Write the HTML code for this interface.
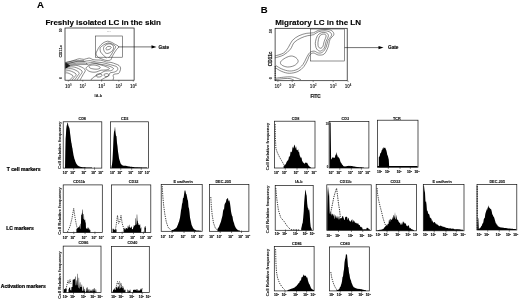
<!DOCTYPE html>
<html><head><meta charset="utf-8"><title>Figure</title>
<style>
html,body{margin:0;padding:0;background:#fff;}
body{width:520px;height:300px;overflow:hidden;font-family:"Liberation Sans", sans-serif;}
svg{display:block;font-family:"Liberation Sans", sans-serif;filter:blur(0.25px) grayscale(1);}
svg text{font-family:"Liberation Sans", sans-serif;}
</style></head>
<body>
<svg width="520" height="300" viewBox="0 0 520 300">
<rect x="0" y="0" width="520" height="300" fill="#fff"/>
<text x="36.9" y="8.1" font-size="9.6" font-weight="bold" text-anchor="start" fill="#000" stroke="#000" stroke-width="0.12">A</text>
<text x="260.7" y="12.7" font-size="9.5" font-weight="bold" text-anchor="start" fill="#000" stroke="#000" stroke-width="0.12">B</text>
<text x="45.4" y="24.7" font-size="8" font-weight="bold" text-anchor="start" fill="#000" stroke="#000" stroke-width="0.12">Freshly isolated LC in the skin</text>
<text x="275.2" y="24.6" font-size="8" font-weight="bold" text-anchor="start" fill="#000" stroke="#000" stroke-width="0.12">Migratory LC in the LN</text>
<text x="6.8" y="171.3" font-size="5" font-weight="bold" text-anchor="start" fill="#000" stroke="#000" stroke-width="0.22">T cell markers</text>
<text x="6.2" y="229.8" font-size="5" font-weight="bold" text-anchor="start" fill="#000" stroke="#000" stroke-width="0.22">LC markers</text>
<text x="0.8" y="288.0" font-size="5" font-weight="bold" text-anchor="start" fill="#000" stroke="#000" stroke-width="0.22">Activation markers</text>
<rect x="65.0" y="28.0" width="69.1" height="52.2" fill="none" stroke="#111" stroke-width="0.7"/>
<rect x="95.6" y="36.0" width="27.0" height="21.200000000000003" fill="none" stroke="#333" stroke-width="0.55"/>
<line x1="118" y1="46.9" x2="153" y2="46.9" stroke="#111" stroke-width="0.6"/>
<path d="M156.5 46.9 L151.5 45.3 L151.5 48.5 Z" fill="#000"/>
<text x="158.6" y="48.5" font-size="4.7" font-weight="bold" text-anchor="start" fill="#222" stroke="#222" stroke-width="0.22">Gate</text>
<text x="62.0" y="30.2" font-size="3.3" font-weight="bold" text-anchor="middle" fill="#222" stroke="#222" stroke-width="0.1" transform="rotate(-90 62.0 30.2)">50</text>
<text x="61.9" y="57.599999999999994" font-size="3.3" font-weight="bold" text-anchor="start" fill="#222" stroke="#222" stroke-width="0.1" transform="rotate(-90 61.9 57.599999999999994)" textLength="12.6" lengthAdjust="spacingAndGlyphs">CD11c</text>
<text x="62.0" y="78.0" font-size="3.3" font-weight="bold" text-anchor="middle" fill="#222" stroke="#222" stroke-width="0.1" transform="rotate(-90 62.0 78.0)">0</text>
<text x="68.3" y="87.8" font-size="4.6" font-weight="bold" text-anchor="middle" fill="#222">10<tspan font-size="2.8" dy="-1.7">0</tspan></text>
<line x1="68.3" y1="80.2" x2="68.3" y2="81.6" stroke="#222" stroke-width="0.5"/>
<text x="82.8" y="87.8" font-size="4.6" font-weight="bold" text-anchor="middle" fill="#222">10<tspan font-size="2.8" dy="-1.7">1</tspan></text>
<line x1="82.8" y1="80.2" x2="82.8" y2="81.6" stroke="#222" stroke-width="0.5"/>
<text x="101.6" y="87.8" font-size="4.6" font-weight="bold" text-anchor="middle" fill="#222">10<tspan font-size="2.8" dy="-1.7">2</tspan></text>
<line x1="101.6" y1="80.2" x2="101.6" y2="81.6" stroke="#222" stroke-width="0.5"/>
<text x="118.8" y="87.8" font-size="4.6" font-weight="bold" text-anchor="middle" fill="#222">10<tspan font-size="2.8" dy="-1.7">3</tspan></text>
<line x1="118.8" y1="80.2" x2="118.8" y2="81.6" stroke="#222" stroke-width="0.5"/>
<text x="133.3" y="87.8" font-size="4.6" font-weight="bold" text-anchor="middle" fill="#222">10<tspan font-size="2.8" dy="-1.7">4</tspan></text>
<line x1="133.3" y1="80.2" x2="133.3" y2="81.6" stroke="#222" stroke-width="0.5"/>
<text x="98.3" y="96.6" font-size="3.8" font-weight="bold" text-anchor="middle" fill="#222" stroke="#222" stroke-width="0.1">IA-b</text>
<text x="109" y="32.3" font-size="2.2" font-weight="normal" text-anchor="middle" fill="#555">H4</text>
<path d="M96.00 54.00 C95.83 52.75 96.92 51.25 97.50 50.00 C98.08 48.75 98.58 47.67 99.50 46.50 C100.42 45.33 101.67 43.88 103.00 43.00 C104.33 42.12 106.08 41.32 107.50 41.20 C108.92 41.08 110.33 41.83 111.50 42.30 C112.67 42.77 113.32 43.28 114.50 44.00 C115.68 44.72 118.32 45.60 118.60 46.60 C118.88 47.60 117.03 48.77 116.20 50.00 C115.37 51.23 114.30 52.83 113.60 54.00 C112.90 55.17 112.52 56.00 112.00 57.00 C111.48 58.00 111.50 59.43 110.50 60.00 C109.50 60.57 107.42 60.57 106.00 60.40 C104.58 60.23 103.25 59.48 102.00 59.00 C100.75 58.52 99.50 58.33 98.50 57.50 C97.50 56.67 96.17 55.25 96.00 54.00 Z" fill="none" stroke="#2a2a2a" stroke-width="0.55"/>
<path d="M100.00 47.80 C100.58 47.33 102.17 45.80 103.50 45.00 C104.83 44.20 106.58 43.17 108.00 43.00 C109.42 42.83 110.73 43.40 112.00 44.00 C113.27 44.60 115.33 45.52 115.60 46.60 C115.87 47.68 114.37 49.10 113.60 50.50 C112.83 51.90 111.85 53.75 111.00 55.00 C110.15 56.25 108.92 57.50 108.50 58.00" fill="none" stroke="#2a2a2a" stroke-width="0.55"/>
<path d="M100.00 47.80 C100.10 48.50 100.02 50.75 100.60 52.00 C101.18 53.25 102.52 54.30 103.50 55.30 C104.48 56.30 106.00 57.55 106.50 58.00" fill="none" stroke="#2a2a2a" stroke-width="0.55"/>
<path d="M103.50 48.50 C103.50 47.35 104.08 46.38 105.00 45.60 C105.92 44.82 107.75 43.90 109.00 43.80 C110.25 43.70 111.73 44.30 112.50 45.00 C113.27 45.70 113.75 46.92 113.60 48.00 C113.45 49.08 112.53 50.60 111.60 51.50 C110.67 52.40 109.10 53.23 108.00 53.40 C106.90 53.57 105.75 53.32 105.00 52.50 C104.25 51.68 103.50 49.65 103.50 48.50 Z" fill="none" stroke="#2a2a2a" stroke-width="0.55"/>
<path d="M106.00 48.50 C106.15 47.97 106.75 46.93 107.50 46.60 C108.25 46.27 109.90 46.27 110.50 46.50 C111.10 46.73 111.35 47.50 111.10 48.00 C110.85 48.50 109.75 49.20 109.00 49.50 C108.25 49.80 107.10 49.97 106.60 49.80 C106.10 49.63 105.85 49.03 106.00 48.50 Z" fill="none" stroke="#2a2a2a" stroke-width="0.55"/>
<path d="M65.30 62.80 C66.08 62.58 68.38 61.97 70.00 61.50 C71.62 61.03 73.42 60.47 75.00 60.00 C76.58 59.53 78.00 58.80 79.50 58.70 C81.00 58.60 82.42 59.52 84.00 59.40 C85.58 59.28 87.50 57.97 89.00 58.00 C90.50 58.03 91.67 59.27 93.00 59.60 C94.33 59.93 95.67 59.90 97.00 60.00 C98.33 60.10 99.43 59.87 101.00 60.20 C102.57 60.53 104.73 61.63 106.40 62.00 C108.07 62.37 109.43 62.07 111.00 62.40 C112.57 62.73 114.47 63.48 115.80 64.00 C117.13 64.52 118.20 64.83 119.00 65.50 C119.80 66.17 120.43 67.08 120.60 68.00 C120.77 68.92 120.35 70.08 120.00 71.00 C119.65 71.92 119.33 73.00 118.50 73.50 C117.67 74.00 115.92 73.72 115.00 74.00 C114.08 74.28 113.23 74.62 113.00 75.20 C112.77 75.78 113.60 76.70 113.60 77.50 C113.60 78.30 113.10 79.58 113.00 80.00" fill="none" stroke="#2a2a2a" stroke-width="0.55"/>
<path d="M65.30 64.50 C66.42 64.18 69.88 63.15 72.00 62.60 C74.12 62.05 76.00 61.40 78.00 61.20 C80.00 61.00 82.00 61.50 84.00 61.40 C86.00 61.30 88.00 60.50 90.00 60.60 C92.00 60.70 94.00 61.67 96.00 62.00 C98.00 62.33 100.00 62.27 102.00 62.60 C104.00 62.93 106.17 63.53 108.00 64.00 C109.83 64.47 111.50 64.90 113.00 65.40 C114.50 65.90 116.23 66.23 117.00 67.00 C117.77 67.77 118.02 69.17 117.60 70.00 C117.18 70.83 115.77 71.50 114.50 72.00 C113.23 72.50 111.00 72.33 110.00 73.00 C109.00 73.67 109.42 75.17 108.50 76.00 C107.58 76.83 105.75 77.33 104.50 78.00 C103.25 78.67 101.58 79.67 101.00 80.00" fill="none" stroke="#2a2a2a" stroke-width="0.55"/>
<path d="M86.00 63.40 C87.00 63.27 90.00 62.53 92.00 62.60 C94.00 62.67 96.00 63.43 98.00 63.80 C100.00 64.17 102.00 64.37 104.00 64.80 C106.00 65.23 108.42 65.77 110.00 66.40 C111.58 67.03 113.42 67.87 113.50 68.60 C113.58 69.33 111.92 70.40 110.50 70.80 C109.08 71.20 106.58 70.60 105.00 71.00 C103.42 71.40 102.50 72.40 101.00 73.20 C99.50 74.00 97.42 75.00 96.00 75.80 C94.58 76.60 93.33 77.30 92.50 78.00 C91.67 78.70 91.25 79.67 91.00 80.00" fill="none" stroke="#2a2a2a" stroke-width="0.55"/>
<path d="M89.00 66.20 C89.33 65.70 90.83 65.15 92.00 65.00 C93.17 64.85 94.75 65.03 96.00 65.30 C97.25 65.57 98.83 66.12 99.50 66.60 C100.17 67.08 100.42 67.77 100.00 68.20 C99.58 68.63 98.17 69.08 97.00 69.20 C95.83 69.32 94.17 69.10 93.00 68.90 C91.83 68.70 90.67 68.45 90.00 68.00 C89.33 67.55 88.67 66.70 89.00 66.20 Z" fill="none" stroke="#2a2a2a" stroke-width="0.55"/>
<path d="M86.00 68.50 C85.83 67.63 87.33 66.68 88.00 66.00 C88.67 65.32 88.83 64.80 90.00 64.40 C91.17 64.00 93.17 63.50 95.00 63.60 C96.83 63.70 99.17 64.50 101.00 65.00 C102.83 65.50 104.58 66.00 106.00 66.60 C107.42 67.20 109.50 68.03 109.50 68.60 C109.50 69.17 107.42 69.73 106.00 70.00 C104.58 70.27 102.50 69.90 101.00 70.20 C99.50 70.50 98.33 71.47 97.00 71.80 C95.67 72.13 94.33 72.30 93.00 72.20 C91.67 72.10 90.17 71.82 89.00 71.20 C87.83 70.58 86.17 69.37 86.00 68.50 Z" fill="none" stroke="#2a2a2a" stroke-width="0.55"/>
<path d="M65.50 66.00 C67.25 65.87 72.75 64.62 76.00 65.20 C79.25 65.78 83.83 67.91 85.00 69.50 C86.17 71.09 83.83 73.00 83.00 74.75 C82.17 76.50 80.50 79.12 80.00 80.00" fill="none" stroke="#2a2a2a" stroke-width="0.55"/>
<path d="M65.50 67.60 C66.92 67.50 71.25 66.43 74.00 67.00 C76.75 67.57 81.00 69.58 82.00 71.00 C83.00 72.42 80.83 74.00 80.00 75.50 C79.17 77.00 77.50 79.25 77.00 80.00" fill="none" stroke="#2a2a2a" stroke-width="0.55"/>
<path d="M65.50 69.20 C66.58 69.13 69.75 68.25 72.00 68.80 C74.25 69.35 78.12 71.26 79.00 72.50 C79.88 73.74 78.00 75.00 77.25 76.25 C76.50 77.50 74.96 79.38 74.50 80.00" fill="none" stroke="#2a2a2a" stroke-width="0.55"/>
<path d="M65.50 71.00 C66.25 70.97 68.25 70.30 70.00 70.80 C71.75 71.30 75.25 72.97 76.00 74.00 C76.75 75.03 75.17 76.00 74.50 77.00 C73.83 78.00 72.42 79.50 72.00 80.00" fill="none" stroke="#2a2a2a" stroke-width="0.55"/>
<path d="M65.50 73.00 C65.92 73.00 66.75 72.53 68.00 73.00 C69.25 73.47 72.38 74.98 73.00 75.80 C73.62 76.62 72.33 77.20 71.75 77.90 C71.17 78.60 69.88 79.65 69.50 80.00" fill="none" stroke="#2a2a2a" stroke-width="0.55"/>
<path d="M96.00 75.00 C96.25 74.47 98.00 73.83 99.00 73.80 C100.00 73.77 101.67 74.33 102.00 74.80 C102.33 75.27 101.75 76.23 101.00 76.60 C100.25 76.97 98.33 77.27 97.50 77.00 C96.67 76.73 95.75 75.53 96.00 75.00 Z" fill="none" stroke="#2a2a2a" stroke-width="0.55"/>
<path d="M104.00 74.50 C104.37 74.07 106.17 73.52 107.00 73.60 C107.83 73.68 109.00 74.52 109.00 75.00 C109.00 75.48 107.70 76.30 107.00 76.50 C106.30 76.70 105.30 76.53 104.80 76.20 C104.30 75.87 103.63 74.93 104.00 74.50 Z" fill="none" stroke="#2a2a2a" stroke-width="0.55"/>
<path d="M65.3 62.6 L67.4 63.6 L69.6 65.2 L70.4 66.2 L68.4 66.8 L66.8 68.0 L65.3 68.8 Z" fill="#111"/>
<path d="M65.5 62.4 Q74.0 60.0 84.0 60.6" fill="none" stroke="#2a2a2a" stroke-width="0.5"/>
<path d="M65.5 63.4 Q75.5 61.4 85.5 61.9" fill="none" stroke="#2a2a2a" stroke-width="0.5"/>
<path d="M65.5 64.4 Q77.0 62.8 87.0 63.2" fill="none" stroke="#2a2a2a" stroke-width="0.5"/>
<path d="M65.5 65.4 Q78.5 64.2 88.5 64.5" fill="none" stroke="#2a2a2a" stroke-width="0.5"/>
<rect x="275.1" y="28.3" width="72.09999999999997" height="52.400000000000006" fill="none" stroke="#111" stroke-width="0.7"/>
<rect x="310.6" y="29.0" width="34.099999999999966" height="32.0" fill="none" stroke="#333" stroke-width="0.55"/>
<line x1="344.6" y1="47.6" x2="380" y2="47.6" stroke="#111" stroke-width="0.6"/>
<path d="M383.5 47.6 L378.5 46.0 L378.5 49.2 Z" fill="#000"/>
<text x="388" y="49.2" font-size="4.7" font-weight="bold" text-anchor="start" fill="#222" stroke="#222" stroke-width="0.22">Gate</text>
<text x="271.6" y="31.0" font-size="3.8" font-weight="bold" text-anchor="middle" fill="#222" stroke="#222" stroke-width="0.1" transform="rotate(-90 271.6 31.0)">50</text>
<text x="271.6" y="58.8" font-size="4.8" font-weight="bold" text-anchor="middle" fill="#222" stroke="#222" stroke-width="0.22" transform="rotate(-90 271.6 58.8)">CD11c</text>
<text x="271.6" y="78.3" font-size="3.8" font-weight="bold" text-anchor="middle" fill="#222" stroke="#222" stroke-width="0.1" transform="rotate(-90 271.6 78.3)">0</text>
<text x="277.9" y="87.6" font-size="4.6" font-weight="bold" text-anchor="middle" fill="#222">10<tspan font-size="2.8" dy="-1.7">0</tspan></text>
<line x1="277.9" y1="80.7" x2="277.9" y2="82.1" stroke="#222" stroke-width="0.5"/>
<text x="292.2" y="87.6" font-size="4.6" font-weight="bold" text-anchor="middle" fill="#222">10<tspan font-size="2.8" dy="-1.7">1</tspan></text>
<line x1="292.2" y1="80.7" x2="292.2" y2="82.1" stroke="#222" stroke-width="0.5"/>
<text x="313.2" y="87.6" font-size="4.6" font-weight="bold" text-anchor="middle" fill="#222">10<tspan font-size="2.8" dy="-1.7">2</tspan></text>
<line x1="313.2" y1="80.7" x2="313.2" y2="82.1" stroke="#222" stroke-width="0.5"/>
<text x="333.2" y="87.6" font-size="4.6" font-weight="bold" text-anchor="middle" fill="#222">10<tspan font-size="2.8" dy="-1.7">3</tspan></text>
<line x1="333.2" y1="80.7" x2="333.2" y2="82.1" stroke="#222" stroke-width="0.5"/>
<text x="348.0" y="87.6" font-size="4.6" font-weight="bold" text-anchor="middle" fill="#222">10<tspan font-size="2.8" dy="-1.7">4</tspan></text>
<line x1="348.0" y1="80.7" x2="348.0" y2="82.1" stroke="#222" stroke-width="0.5"/>
<text x="315.5" y="98.2" font-size="4.6" font-weight="bold" text-anchor="middle" fill="#222" stroke="#222" stroke-width="0.22">FITC</text>
<path d="M274.90 56.00 C276.35 55.50 281.35 54.45 283.60 53.00 C285.85 51.55 286.95 49.38 288.40 47.30 C289.85 45.22 290.53 42.43 292.30 40.50 C294.07 38.57 296.58 36.90 299.00 35.70 C301.42 34.50 304.38 33.78 306.80 33.30 C309.22 32.82 311.57 33.30 313.50 32.80 C315.43 32.30 316.30 30.85 318.40 30.30 C320.50 29.75 323.85 29.42 326.10 29.50 C328.35 29.58 330.62 29.93 331.90 30.80 C333.18 31.67 334.12 33.25 333.80 34.70 C333.48 36.15 330.97 37.40 330.00 39.50 C329.03 41.60 328.97 44.88 328.00 47.30 C327.03 49.72 325.80 52.72 324.20 54.00 C322.60 55.28 320.18 55.17 318.40 55.00 C316.62 54.83 314.95 53.00 313.50 53.00 C312.05 53.00 310.67 53.87 309.70 55.00 C308.73 56.13 308.67 57.87 307.70 59.80 C306.73 61.73 305.50 64.67 303.90 66.60 C302.30 68.53 300.52 70.28 298.10 71.40 C295.68 72.52 292.13 73.30 289.40 73.30 C286.67 73.30 284.12 72.37 281.70 71.40 C279.28 70.43 276.03 68.15 274.90 67.50" fill="none" stroke="#2a2a2a" stroke-width="0.55"/>
<path d="M274.90 57.90 C276.35 57.42 281.02 56.45 283.60 55.00 C286.18 53.55 288.63 51.30 290.40 49.20 C292.17 47.10 292.43 44.27 294.20 42.40 C295.97 40.53 298.75 39.12 301.00 38.00 C303.25 36.88 305.62 36.25 307.70 35.70 C309.78 35.15 311.72 35.35 313.50 34.70 C315.28 34.05 316.47 32.45 318.40 31.80 C320.33 31.15 323.17 30.73 325.10 30.80 C327.03 30.87 328.93 31.45 330.00 32.20 C331.07 32.95 331.83 33.92 331.50 35.30 C331.17 36.68 328.90 38.50 328.00 40.50 C327.10 42.50 327.00 45.37 326.10 47.30 C325.20 49.23 323.88 51.15 322.60 52.10 C321.32 53.05 319.82 53.17 318.40 53.00 C316.98 52.83 315.55 51.15 314.10 51.10 C312.65 51.05 310.98 51.57 309.70 52.70 C308.42 53.83 307.53 55.92 306.40 57.90 C305.27 59.88 304.45 62.67 302.90 64.60 C301.35 66.53 299.35 68.43 297.10 69.50 C294.85 70.57 291.97 71.10 289.40 71.00 C286.83 70.90 283.95 69.80 281.70 68.90 C279.45 68.00 276.87 66.15 275.90 65.60" fill="none" stroke="#2a2a2a" stroke-width="0.55"/>
<path d="M315.50 41.50 C315.82 39.90 316.43 37.15 317.40 35.70 C318.37 34.25 319.85 33.28 321.30 32.80 C322.75 32.32 324.92 32.32 326.10 32.80 C327.28 33.28 328.40 34.25 328.40 35.70 C328.40 37.15 326.80 39.42 326.10 41.50 C325.40 43.58 325.17 46.60 324.20 48.20 C323.23 49.80 321.53 50.93 320.30 51.10 C319.07 51.27 317.60 50.17 316.80 49.20 C316.00 48.23 315.72 46.58 315.50 45.30 C315.28 44.02 315.18 43.10 315.50 41.50 Z" fill="none" stroke="#2a2a2a" stroke-width="0.55"/>
<path d="M318.40 39.50 C318.78 37.83 319.33 36.20 320.30 35.30 C321.27 34.40 323.23 33.98 324.20 34.10 C325.17 34.22 326.10 34.77 326.10 36.00 C326.10 37.23 324.78 39.68 324.20 41.50 C323.62 43.32 323.32 45.78 322.60 46.90 C321.88 48.02 320.67 48.47 319.90 48.20 C319.13 47.93 318.25 46.75 318.00 45.30 C317.75 43.85 318.02 41.17 318.40 39.50 Z" fill="none" stroke="#2a2a2a" stroke-width="0.55"/>
<path d="M280.70 61.70 C281.33 60.52 283.73 58.85 285.50 57.90 C287.27 56.95 289.52 56.00 291.30 56.00 C293.08 56.00 295.07 56.95 296.20 57.90 C297.33 58.85 298.43 60.42 298.10 61.70 C297.77 62.98 295.97 64.72 294.20 65.60 C292.43 66.48 289.58 67.10 287.50 67.00 C285.42 66.90 282.83 65.88 281.70 65.00 C280.57 64.12 280.07 62.88 280.70 61.70 Z" fill="none" stroke="#2a2a2a" stroke-width="0.55"/>
<path d="M275.90 78.20 C277.18 78.03 281.03 77.43 283.60 77.20 C286.17 76.97 289.05 76.63 291.30 76.80 C293.55 76.97 295.48 77.72 297.10 78.20 C298.72 78.68 300.35 79.45 301.00 79.70" fill="none" stroke="#2a2a2a" stroke-width="0.55"/>
<path d="M276.00 79.60 C277.33 79.43 281.67 78.77 284.00 78.60 C286.33 78.43 288.33 78.33 290.00 78.60 C291.67 78.87 293.33 79.93 294.00 80.20" fill="none" stroke="#2a2a2a" stroke-width="0.55"/>
<line x1="275.2" y1="66" x2="275.2" y2="80.7" stroke="#111" stroke-width="0.9" stroke-dasharray="1.4 0.8"/>
<rect x="63.2" y="121.8" width="38.599999999999994" height="46.3" fill="none" stroke="#111" stroke-width="0.7"/>
<text x="82.2" y="120.1" font-size="3.8" font-weight="bold" text-anchor="middle" fill="#111" stroke="#111" stroke-width="0.1">CD8</text>
<text x="65.30" y="173.5" font-size="3.3" font-weight="bold" text-anchor="middle" fill="#111" stroke="#111" stroke-width="0.15">10<tspan font-size="2.2" dy="-1.3">0</tspan></text>
<line x1="73.67" y1="167.29999999999998" x2="73.67" y2="169.79999999999998" stroke="#222" stroke-width="0.55"/>
<text x="72.77" y="173.5" font-size="3.3" font-weight="bold" text-anchor="middle" fill="#111" stroke="#111" stroke-width="0.15">10<tspan font-size="2.2" dy="-1.3">1</tspan></text>
<line x1="84.78" y1="167.29999999999998" x2="84.78" y2="169.79999999999998" stroke="#222" stroke-width="0.55"/>
<text x="83.89" y="173.5" font-size="3.3" font-weight="bold" text-anchor="middle" fill="#111" stroke="#111" stroke-width="0.15">10<tspan font-size="2.2" dy="-1.3">2</tspan></text>
<line x1="94.52" y1="167.29999999999998" x2="94.52" y2="169.79999999999998" stroke="#222" stroke-width="0.55"/>
<text x="93.62" y="173.5" font-size="3.3" font-weight="bold" text-anchor="middle" fill="#111" stroke="#111" stroke-width="0.15">10<tspan font-size="2.2" dy="-1.3">3</tspan></text>
<text x="100.70" y="173.5" font-size="3.3" font-weight="bold" text-anchor="middle" fill="#111" stroke="#111" stroke-width="0.15">10<tspan font-size="2.2" dy="-1.3">4</tspan></text>
<text x="61.2" y="168.95" font-size="3.9" font-weight="bold" text-anchor="start" fill="#222" stroke="#222" stroke-width="0.1" transform="rotate(-90 61.2 168.95)" textLength="47.5" lengthAdjust="spacingAndGlyphs">Cell Relative frequency</text>
<path d="M65.00 168.00 L65.00 168.00 L65.30 152.46 L65.60 139.06 L65.90 135.37 L66.20 129.49 L66.50 126.69 L66.80 125.26 L67.10 124.87 L67.40 122.46 L67.70 122.80 L68.00 123.47 L68.30 125.77 L68.60 125.87 L68.90 127.24 L69.20 127.62 L69.50 128.42 L69.80 130.37 L70.10 133.40 L70.40 135.60 L70.70 138.01 L71.00 140.52 L71.30 142.49 L71.60 143.56 L71.90 145.79 L72.20 147.57 L72.50 148.62 L72.80 150.93 L73.10 152.54 L73.40 154.45 L73.70 156.07 L74.00 157.08 L74.30 158.42 L74.60 159.23 L74.90 159.93 L75.20 161.04 L75.50 162.08 L75.80 162.47 L76.10 163.14 L76.40 163.72 L76.70 164.16 L77.00 164.62 L77.30 164.98 L77.60 165.39 L77.90 165.54 L78.20 165.78 L78.50 166.11 L78.80 166.19 L79.10 166.34 L79.40 166.50 L79.70 166.60 L80.00 166.70 L80.30 166.74 L80.60 166.85 L80.90 166.89 L81.20 166.99 L81.50 166.99 L81.80 167.04 L82.10 167.11 L82.40 167.14 L82.70 167.15 L83.00 167.20 L83.30 167.24 L83.60 167.28 L83.90 167.30 L84.20 167.30 L84.50 167.34 L84.80 167.32 L85.10 167.37 L85.40 167.35 L85.70 167.40 L86.00 167.38 L86.30 167.40 L86.60 167.42 L86.90 167.43 L87.20 167.43 L87.50 167.44 L87.80 167.46 L88.10 167.47 L88.40 167.46 L88.70 167.45 L89.00 167.47 L89.30 167.49 L89.60 167.47 L89.90 167.47 L90.20 167.47 L90.50 167.50 L90.80 167.48 L91.10 167.51 L91.40 167.49 L91.70 167.50 L92.00 167.51 L92.00 168.00 Z" fill="#000" stroke="none" stroke-width="0" stroke-linejoin="round"/>
<rect x="110.4" y="121.8" width="38.0" height="46.3" fill="none" stroke="#111" stroke-width="0.7"/>
<text x="124.7" y="120.1" font-size="3.8" font-weight="bold" text-anchor="middle" fill="#111" stroke="#111" stroke-width="0.1">CD3</text>
<text x="112.50" y="173.5" font-size="3.3" font-weight="bold" text-anchor="middle" fill="#111" stroke="#111" stroke-width="0.15">10<tspan font-size="2.2" dy="-1.3">0</tspan></text>
<line x1="120.74" y1="167.29999999999998" x2="120.74" y2="169.79999999999998" stroke="#222" stroke-width="0.55"/>
<text x="119.84" y="173.5" font-size="3.3" font-weight="bold" text-anchor="middle" fill="#111" stroke="#111" stroke-width="0.15">10<tspan font-size="2.2" dy="-1.3">1</tspan></text>
<line x1="131.67" y1="167.29999999999998" x2="131.67" y2="169.79999999999998" stroke="#222" stroke-width="0.55"/>
<text x="130.77" y="173.5" font-size="3.3" font-weight="bold" text-anchor="middle" fill="#111" stroke="#111" stroke-width="0.15">10<tspan font-size="2.2" dy="-1.3">2</tspan></text>
<line x1="141.24" y1="167.29999999999998" x2="141.24" y2="169.79999999999998" stroke="#222" stroke-width="0.55"/>
<text x="140.34" y="173.5" font-size="3.3" font-weight="bold" text-anchor="middle" fill="#111" stroke="#111" stroke-width="0.15">10<tspan font-size="2.2" dy="-1.3">3</tspan></text>
<text x="147.30" y="173.5" font-size="3.3" font-weight="bold" text-anchor="middle" fill="#111" stroke="#111" stroke-width="0.15">10<tspan font-size="2.2" dy="-1.3">4</tspan></text>
<path d="M111.50 168.00 L111.50 166.73 L112.00 164.58 L112.50 159.67 L113.00 149.89 L113.50 137.66 L114.00 131.70 L114.50 130.42 L115.00 126.29 L115.50 132.32 L116.00 135.81 L116.50 136.19 L117.00 143.08 L117.50 146.22 L118.00 151.43 L118.50 154.59 L119.00 158.37 L119.50 159.94 L120.00 161.52 L120.50 163.16 L121.00 163.92 L121.50 164.58 L122.00 165.27 L122.50 165.21 L123.00 165.45 L123.50 165.68 L124.00 165.87 L124.50 165.64 L125.00 165.86 L125.50 165.84 L126.00 165.87 L126.50 166.00 L127.00 166.01 L127.50 166.24 L128.00 166.20 L128.50 166.38 L129.00 166.33 L129.50 166.42 L130.00 166.68 L130.50 166.73 L131.00 166.78 L131.50 166.70 L132.00 166.86 L132.50 166.89 L133.00 167.00 L133.50 167.02 L134.00 167.08 L134.50 167.13 L135.00 167.14 L135.50 167.18 L136.00 167.18 L136.50 167.24 L137.00 167.24 L137.50 167.28 L138.00 167.29 L138.50 167.34 L139.00 167.41 L139.50 167.36 L140.00 167.37 L140.50 167.39 L141.00 167.43 L141.50 167.43 L142.00 167.48 L142.50 167.43 L143.00 167.46 L143.50 167.49 L144.00 167.51 L144.50 167.45 L145.00 167.44 L145.50 167.52 L146.00 167.47 L146.50 167.50 L147.00 167.52 L147.00 168.00 Z" fill="#000" stroke="none" stroke-width="0" stroke-linejoin="round"/>
<rect x="63.2" y="184.9" width="39.099999999999994" height="47.5" fill="none" stroke="#111" stroke-width="0.7"/>
<text x="79.2" y="182.70000000000002" font-size="3.8" font-weight="bold" text-anchor="middle" fill="#111" stroke="#111" stroke-width="0.1">CD11b</text>
<text x="65.30" y="238.6" font-size="3.3" font-weight="bold" text-anchor="middle" fill="#111" stroke="#111" stroke-width="0.15">10<tspan font-size="2.2" dy="-1.3">0</tspan></text>
<line x1="73.77" y1="231.6" x2="73.77" y2="234.1" stroke="#222" stroke-width="0.55"/>
<text x="72.87" y="238.6" font-size="3.3" font-weight="bold" text-anchor="middle" fill="#111" stroke="#111" stroke-width="0.15">10<tspan font-size="2.2" dy="-1.3">1</tspan></text>
<line x1="85.05" y1="231.6" x2="85.05" y2="234.1" stroke="#222" stroke-width="0.55"/>
<text x="84.15" y="238.6" font-size="3.3" font-weight="bold" text-anchor="middle" fill="#111" stroke="#111" stroke-width="0.15">10<tspan font-size="2.2" dy="-1.3">2</tspan></text>
<line x1="94.92" y1="231.6" x2="94.92" y2="234.1" stroke="#222" stroke-width="0.55"/>
<text x="94.02" y="238.6" font-size="3.3" font-weight="bold" text-anchor="middle" fill="#111" stroke="#111" stroke-width="0.15">10<tspan font-size="2.2" dy="-1.3">3</tspan></text>
<text x="101.20" y="238.6" font-size="3.3" font-weight="bold" text-anchor="middle" fill="#111" stroke="#111" stroke-width="0.15">10<tspan font-size="2.2" dy="-1.3">4</tspan></text>
<text x="61.3" y="234.75" font-size="3.9" font-weight="bold" text-anchor="start" fill="#222" stroke="#222" stroke-width="0.1" transform="rotate(-90 61.3 234.75)" textLength="47.5" lengthAdjust="spacingAndGlyphs">Cell Relative frequency</text>
<path d="M76.40 232.40 L76.40 229.12 L76.76 229.12 L77.00 228.57 L77.36 228.57 L77.60 228.10 L77.96 228.10 L78.20 227.17 L78.56 227.17 L78.80 227.26 L79.16 227.26 L79.40 225.49 L79.76 225.49 L80.00 228.71 L80.36 228.71 L80.60 223.83 L80.96 223.83 L81.20 214.90 L81.56 214.90 L81.80 213.45 L82.16 213.45 L82.40 209.40 L82.76 209.40 L83.00 219.04 L83.36 219.04 L83.60 214.05 L83.96 214.05 L84.20 220.17 L84.56 220.17 L84.80 219.56 L85.16 219.56 L85.40 222.54 L85.76 222.54 L86.00 228.51 L86.36 228.51 L86.60 228.39 L86.96 228.39 L87.20 228.86 L87.56 228.86 L87.80 227.15 L88.16 227.15 L88.40 228.16 L88.76 228.16 L89.00 230.22 L89.36 230.22 L89.60 228.65 L89.96 228.65 L90.20 230.49 L90.56 230.49 L90.20 232.40 Z" fill="#000" stroke="none" stroke-width="0" stroke-linejoin="round"/>
<path d="M67.50 231.90 L70.00 226.40 L72.00 218.40 L73.70 208.40 L75.00 217.40 L76.50 225.40 L78.20 231.40" fill="none" stroke="#111" stroke-width="0.8" stroke-dasharray="1.2 1.0" stroke-linejoin="round"/>
<rect x="111.6" y="184.9" width="39.20000000000002" height="47.5" fill="none" stroke="#111" stroke-width="0.7"/>
<text x="133.6" y="182.70000000000002" font-size="3.8" font-weight="bold" text-anchor="middle" fill="#111" stroke="#111" stroke-width="0.1">CD32</text>
<text x="113.70" y="238.6" font-size="3.3" font-weight="bold" text-anchor="middle" fill="#111" stroke="#111" stroke-width="0.15">10<tspan font-size="2.2" dy="-1.3">0</tspan></text>
<line x1="122.20" y1="231.6" x2="122.20" y2="234.1" stroke="#222" stroke-width="0.55"/>
<text x="121.30" y="238.6" font-size="3.3" font-weight="bold" text-anchor="middle" fill="#111" stroke="#111" stroke-width="0.15">10<tspan font-size="2.2" dy="-1.3">1</tspan></text>
<line x1="133.50" y1="231.6" x2="133.50" y2="234.1" stroke="#222" stroke-width="0.55"/>
<text x="132.60" y="238.6" font-size="3.3" font-weight="bold" text-anchor="middle" fill="#111" stroke="#111" stroke-width="0.15">10<tspan font-size="2.2" dy="-1.3">2</tspan></text>
<line x1="143.40" y1="231.6" x2="143.40" y2="234.1" stroke="#222" stroke-width="0.55"/>
<text x="142.50" y="238.6" font-size="3.3" font-weight="bold" text-anchor="middle" fill="#111" stroke="#111" stroke-width="0.15">10<tspan font-size="2.2" dy="-1.3">3</tspan></text>
<text x="149.70" y="238.6" font-size="3.3" font-weight="bold" text-anchor="middle" fill="#111" stroke="#111" stroke-width="0.15">10<tspan font-size="2.2" dy="-1.3">4</tspan></text>
<path d="M112.60 232.40 L112.60 228.87 L112.96 228.87 L113.20 228.82 L113.56 228.82 L113.80 229.43 L114.16 229.43 L114.40 229.83 L114.76 229.83 L115.00 230.30 L115.36 230.30 L115.60 229.11 L115.96 229.11 L116.20 229.45 L116.56 229.45 L116.50 232.40 Z" fill="#000" stroke="none" stroke-width="0" stroke-linejoin="round"/>
<path d="M123.60 232.40 L123.60 228.79 L123.96 228.79 L124.20 229.37 L124.56 229.37 L124.80 227.68 L125.16 227.68 L125.40 229.61 L125.76 229.61 L126.00 227.90 L126.36 227.90 L126.60 228.17 L126.96 228.17 L127.20 228.85 L127.56 228.85 L127.80 225.73 L128.16 225.73 L128.40 227.53 L128.76 227.53 L129.00 224.64 L129.36 224.64 L129.60 227.33 L129.96 227.33 L130.20 227.94 L130.56 227.94 L130.80 227.23 L131.16 227.23 L131.40 226.40 L131.76 226.40 L132.00 229.31 L132.36 229.31 L132.60 228.97 L132.96 228.97 L133.20 227.28 L133.56 227.28 L133.80 225.27 L134.16 225.27 L134.40 225.64 L134.76 225.64 L135.00 224.98 L135.36 224.98 L135.60 218.22 L135.96 218.22 L136.20 224.48 L136.56 224.48 L136.80 214.52 L137.16 214.52 L137.40 220.66 L137.76 220.66 L138.00 223.19 L138.36 223.19 L138.60 224.99 L138.96 224.99 L139.20 225.36 L139.56 225.36 L139.80 224.35 L140.16 224.35 L140.40 228.51 L140.76 228.51 L141.00 227.50 L141.36 227.50 L141.20 232.40 Z" fill="#000" stroke="none" stroke-width="0" stroke-linejoin="round"/>
<path d="M144.40 232.40 L144.40 227.50 L144.76 227.50 L145.00 225.88 L145.36 225.88 L145.60 227.72 L145.96 227.72 L145.80 232.40 Z" fill="#000" stroke="none" stroke-width="0" stroke-linejoin="round"/>
<path d="M115.00 231.90 L116.30 224.40 L117.50 215.40 L118.60 223.40 L119.60 222.40 L121.00 215.40 L122.20 223.40 L123.40 227.40 L124.60 231.40" fill="none" stroke="#111" stroke-width="0.8" stroke-dasharray="1.2 1.0" stroke-linejoin="round"/>
<rect x="161.2" y="184.4" width="41.0" height="46.900000000000006" fill="none" stroke="#111" stroke-width="0.7"/>
<text x="183.2" y="182.70000000000002" font-size="3.8" font-weight="bold" text-anchor="middle" fill="#111" stroke="#111" stroke-width="0.1">E cadherin</text>
<text x="163.30" y="237.5" font-size="3.3" font-weight="bold" text-anchor="middle" fill="#111" stroke="#111" stroke-width="0.15">10<tspan font-size="2.2" dy="-1.3">0</tspan></text>
<line x1="172.18" y1="230.5" x2="172.18" y2="233.0" stroke="#222" stroke-width="0.55"/>
<text x="171.28" y="237.5" font-size="3.3" font-weight="bold" text-anchor="middle" fill="#111" stroke="#111" stroke-width="0.15">10<tspan font-size="2.2" dy="-1.3">1</tspan></text>
<line x1="184.04" y1="230.5" x2="184.04" y2="233.0" stroke="#222" stroke-width="0.55"/>
<text x="183.14" y="237.5" font-size="3.3" font-weight="bold" text-anchor="middle" fill="#111" stroke="#111" stroke-width="0.15">10<tspan font-size="2.2" dy="-1.3">2</tspan></text>
<line x1="194.44" y1="230.5" x2="194.44" y2="233.0" stroke="#222" stroke-width="0.55"/>
<text x="193.54" y="237.5" font-size="3.3" font-weight="bold" text-anchor="middle" fill="#111" stroke="#111" stroke-width="0.15">10<tspan font-size="2.2" dy="-1.3">3</tspan></text>
<text x="201.10" y="237.5" font-size="3.3" font-weight="bold" text-anchor="middle" fill="#111" stroke="#111" stroke-width="0.15">10<tspan font-size="2.2" dy="-1.3">4</tspan></text>
<path d="M171.50 231.30 L171.50 230.18 L172.00 230.09 L172.50 230.01 L173.00 229.72 L173.50 229.74 L174.00 229.42 L174.50 229.05 L175.00 229.00 L175.50 228.45 L176.00 227.94 L176.50 227.64 L177.00 226.71 L177.50 225.52 L178.00 224.54 L178.50 222.80 L179.00 221.80 L179.50 219.73 L180.00 217.71 L180.50 214.27 L181.00 210.19 L181.50 207.99 L182.00 204.08 L182.50 202.40 L183.00 197.80 L183.50 198.16 L184.00 195.02 L184.50 191.27 L185.00 189.91 L185.50 191.32 L186.00 193.75 L186.50 194.26 L187.00 196.87 L187.50 199.50 L188.00 200.77 L188.50 206.89 L189.00 208.43 L189.50 212.27 L190.00 217.47 L190.50 219.67 L191.00 221.96 L191.50 224.48 L192.00 225.69 L192.50 226.65 L193.00 228.06 L193.50 228.57 L194.00 229.26 L194.50 229.52 L195.00 229.76 L195.50 230.11 L196.00 230.29 L196.50 230.40 L197.00 230.43 L197.50 230.57 L198.00 230.61 L198.50 230.62 L199.00 230.62 L199.50 230.70 L200.00 230.72 L200.50 230.72 L201.00 230.78 L201.00 231.30 Z" fill="#000" stroke="none" stroke-width="0" stroke-linejoin="round"/>
<path d="M162.20 186.00 L162.80 196.00 L163.60 205.00 L164.80 214.00 L166.30 222.00 L168.20 227.50 L171.00 230.00" fill="none" stroke="#111" stroke-width="0.8" stroke-dasharray="1.3 1.0" stroke-linejoin="round"/>
<rect x="209.6" y="184.4" width="39.30000000000001" height="46.900000000000006" fill="none" stroke="#111" stroke-width="0.7"/>
<text x="223.2" y="182.70000000000002" font-size="3.8" font-weight="bold" text-anchor="middle" fill="#111" stroke="#111" stroke-width="0.1">DEC-205</text>
<text x="211.70" y="237.5" font-size="3.3" font-weight="bold" text-anchor="middle" fill="#111" stroke="#111" stroke-width="0.15">10<tspan font-size="2.2" dy="-1.3">0</tspan></text>
<line x1="220.22" y1="230.5" x2="220.22" y2="233.0" stroke="#222" stroke-width="0.55"/>
<text x="219.32" y="237.5" font-size="3.3" font-weight="bold" text-anchor="middle" fill="#111" stroke="#111" stroke-width="0.15">10<tspan font-size="2.2" dy="-1.3">1</tspan></text>
<line x1="231.55" y1="230.5" x2="231.55" y2="233.0" stroke="#222" stroke-width="0.55"/>
<text x="230.65" y="237.5" font-size="3.3" font-weight="bold" text-anchor="middle" fill="#111" stroke="#111" stroke-width="0.15">10<tspan font-size="2.2" dy="-1.3">2</tspan></text>
<line x1="241.48" y1="230.5" x2="241.48" y2="233.0" stroke="#222" stroke-width="0.55"/>
<text x="240.58" y="237.5" font-size="3.3" font-weight="bold" text-anchor="middle" fill="#111" stroke="#111" stroke-width="0.15">10<tspan font-size="2.2" dy="-1.3">3</tspan></text>
<text x="247.80" y="237.5" font-size="3.3" font-weight="bold" text-anchor="middle" fill="#111" stroke="#111" stroke-width="0.15">10<tspan font-size="2.2" dy="-1.3">4</tspan></text>
<path d="M217.50 231.30 L217.50 228.90 L218.00 228.35 L218.50 227.54 L219.00 226.86 L219.50 225.33 L220.00 223.99 L220.50 222.64 L221.00 221.62 L221.50 219.23 L222.00 217.56 L222.50 215.61 L223.00 211.60 L223.50 209.02 L224.00 209.66 L224.50 204.73 L225.00 203.60 L225.50 202.71 L226.00 201.70 L226.50 198.92 L227.00 199.22 L227.50 197.95 L228.00 198.35 L228.50 201.50 L229.00 200.07 L229.50 201.02 L230.00 203.30 L230.50 206.99 L231.00 211.23 L231.50 213.72 L232.00 215.77 L232.50 216.47 L233.00 219.90 L233.50 221.78 L234.00 222.95 L234.50 225.10 L235.00 226.20 L235.50 227.35 L236.00 228.37 L236.50 228.83 L237.00 229.30 L237.50 229.87 L238.00 230.14 L238.50 230.33 L239.00 230.53 L239.50 230.58 L240.00 230.63 L240.00 231.30 Z" fill="#000" stroke="none" stroke-width="0" stroke-linejoin="round"/>
<path d="M210.80 197.00 L211.30 206.00 L212.20 215.00 L213.50 223.00 L215.50 228.50 L218.00 230.30" fill="none" stroke="#111" stroke-width="0.8" stroke-dasharray="1.3 1.0" stroke-linejoin="round"/>
<rect x="63.2" y="246.1" width="37.8" height="46.50000000000003" fill="none" stroke="#111" stroke-width="0.7"/>
<text x="83.4" y="244.3" font-size="3.8" font-weight="bold" text-anchor="middle" fill="#111" stroke="#111" stroke-width="0.1">CD86</text>
<text x="65.30" y="298.2" font-size="3.3" font-weight="bold" text-anchor="middle" fill="#111" stroke="#111" stroke-width="0.15">10<tspan font-size="2.2" dy="-1.3">0</tspan></text>
<line x1="73.50" y1="291.8" x2="73.50" y2="294.3" stroke="#222" stroke-width="0.55"/>
<text x="72.60" y="298.2" font-size="3.3" font-weight="bold" text-anchor="middle" fill="#111" stroke="#111" stroke-width="0.15">10<tspan font-size="2.2" dy="-1.3">1</tspan></text>
<line x1="84.37" y1="291.8" x2="84.37" y2="294.3" stroke="#222" stroke-width="0.55"/>
<text x="83.47" y="298.2" font-size="3.3" font-weight="bold" text-anchor="middle" fill="#111" stroke="#111" stroke-width="0.15">10<tspan font-size="2.2" dy="-1.3">2</tspan></text>
<line x1="93.88" y1="291.8" x2="93.88" y2="294.3" stroke="#222" stroke-width="0.55"/>
<text x="92.98" y="298.2" font-size="3.3" font-weight="bold" text-anchor="middle" fill="#111" stroke="#111" stroke-width="0.15">10<tspan font-size="2.2" dy="-1.3">3</tspan></text>
<text x="99.90" y="298.2" font-size="3.3" font-weight="bold" text-anchor="middle" fill="#111" stroke="#111" stroke-width="0.15">10<tspan font-size="2.2" dy="-1.3">4</tspan></text>
<text x="61.3" y="298.75" font-size="3.9" font-weight="bold" text-anchor="start" fill="#222" stroke="#222" stroke-width="0.1" transform="rotate(-90 61.3 298.75)" textLength="47.5" lengthAdjust="spacingAndGlyphs">Cell Relative frequency</text>
<path d="M64.00 292.60 L64.00 289.20 L64.36 289.20 L64.60 288.97 L64.96 288.97 L65.20 288.21 L65.56 288.21 L65.80 289.17 L66.16 289.17 L66.40 289.08 L66.76 289.08 L66.50 292.60 Z" fill="#000" stroke="none" stroke-width="0" stroke-linejoin="round"/>
<path d="M68.50 292.60 L68.50 289.17 L68.86 289.17 L69.10 287.94 L69.46 287.94 L69.70 287.33 L70.06 287.33 L70.30 289.95 L70.66 289.95 L70.90 290.50 L71.26 290.50 L71.50 286.94 L71.86 286.94 L72.10 287.02 L72.46 287.02 L72.70 279.75 L73.06 279.75 L73.30 279.60 L73.66 279.60 L73.90 279.48 L74.26 279.48 L74.50 279.09 L74.86 279.09 L75.10 276.61 L75.46 276.61 L75.70 285.33 L76.06 285.33 L76.30 280.25 L76.66 280.25 L76.90 285.31 L77.26 285.31 L77.50 273.76 L77.86 273.76 L78.10 287.71 L78.46 287.71 L78.70 277.82 L79.06 277.82 L79.30 288.41 L79.66 288.41 L79.90 282.30 L80.26 282.30 L80.50 286.88 L80.86 286.88 L81.10 287.05 L81.46 287.05 L81.70 284.60 L82.06 284.60 L82.30 290.78 L82.66 290.78 L82.90 290.74 L83.26 290.74 L83.50 286.54 L83.86 286.54 L84.10 288.93 L84.46 288.93 L84.70 291.00 L85.06 291.00 L85.00 292.60 Z" fill="#000" stroke="none" stroke-width="0" stroke-linejoin="round"/>
<path d="M85.50 292.60 L85.50 291.63 L85.86 291.63 L86.10 287.78 L86.46 287.78 L86.70 291.22 L87.06 291.22 L87.30 287.23 L87.66 287.23 L87.90 291.70 L88.26 291.70 L88.50 289.31 L88.86 289.31 L89.10 291.74 L89.46 291.74 L89.70 289.32 L90.06 289.32 L90.30 291.18 L90.66 291.18 L90.90 289.64 L91.26 289.64 L91.50 291.37 L91.86 291.37 L92.10 289.36 L92.46 289.36 L92.70 291.60 L93.06 291.60 L93.30 288.63 L93.66 288.63 L93.90 291.08 L94.26 291.08 L94.50 288.04 L94.86 288.04 L95.10 291.87 L95.46 291.87 L95.70 289.15 L96.06 289.15 L96.30 291.74 L96.66 291.74 L96.40 292.60 Z" fill="#000" stroke="none" stroke-width="0" stroke-linejoin="round"/>
<path d="M65.50 291.60 L67.00 284.60 L68.00 280.60 L69.00 283.60 L70.00 279.60 L71.00 283.60" fill="none" stroke="#111" stroke-width="0.8" stroke-dasharray="1.2 1.0" stroke-linejoin="round"/>
<rect x="111.6" y="246.4" width="37.70000000000002" height="46.20000000000002" fill="none" stroke="#111" stroke-width="0.7"/>
<text x="132.4" y="244.3" font-size="3.8" font-weight="bold" text-anchor="middle" fill="#111" stroke="#111" stroke-width="0.1">CD40</text>
<text x="113.70" y="298.2" font-size="3.3" font-weight="bold" text-anchor="middle" fill="#111" stroke="#111" stroke-width="0.15">10<tspan font-size="2.2" dy="-1.3">0</tspan></text>
<line x1="121.88" y1="291.8" x2="121.88" y2="294.3" stroke="#222" stroke-width="0.55"/>
<text x="120.98" y="298.2" font-size="3.3" font-weight="bold" text-anchor="middle" fill="#111" stroke="#111" stroke-width="0.15">10<tspan font-size="2.2" dy="-1.3">1</tspan></text>
<line x1="132.71" y1="291.8" x2="132.71" y2="294.3" stroke="#222" stroke-width="0.55"/>
<text x="131.81" y="298.2" font-size="3.3" font-weight="bold" text-anchor="middle" fill="#111" stroke="#111" stroke-width="0.15">10<tspan font-size="2.2" dy="-1.3">2</tspan></text>
<line x1="142.20" y1="291.8" x2="142.20" y2="294.3" stroke="#222" stroke-width="0.55"/>
<text x="141.30" y="298.2" font-size="3.3" font-weight="bold" text-anchor="middle" fill="#111" stroke="#111" stroke-width="0.15">10<tspan font-size="2.2" dy="-1.3">3</tspan></text>
<text x="148.20" y="298.2" font-size="3.3" font-weight="bold" text-anchor="middle" fill="#111" stroke="#111" stroke-width="0.15">10<tspan font-size="2.2" dy="-1.3">4</tspan></text>
<path d="M112.50 292.60 L112.50 291.44 L112.86 291.44 L113.10 289.80 L113.46 289.80 L113.70 289.57 L114.06 289.57 L114.30 288.21 L114.66 288.21 L114.90 290.08 L115.26 290.08 L115.50 289.81 L115.86 289.81 L116.10 287.19 L116.46 287.19 L116.70 286.96 L117.06 286.96 L117.30 288.45 L117.66 288.45 L117.90 285.68 L118.26 285.68 L118.50 287.15 L118.86 287.15 L119.10 284.15 L119.46 284.15 L119.70 288.72 L120.06 288.72 L120.30 287.87 L120.66 287.87 L120.90 282.90 L121.26 282.90 L121.50 287.22 L121.86 287.22 L122.10 288.34 L122.46 288.34 L122.70 285.88 L123.06 285.88 L123.30 287.75 L123.66 287.75 L123.90 290.46 L124.26 290.46 L124.50 289.61 L124.86 289.61 L125.10 289.87 L125.46 289.87 L125.50 292.60 Z" fill="#000" stroke="none" stroke-width="0" stroke-linejoin="round"/>
<path d="M127.50 292.60 L127.50 289.58 L127.86 289.58 L128.10 291.67 L128.46 291.67 L128.70 290.08 L129.06 290.08 L129.30 291.35 L129.66 291.35 L129.90 289.53 L130.26 289.53 L130.50 291.66 L130.86 291.66 L130.50 292.60 Z" fill="#000" stroke="none" stroke-width="0" stroke-linejoin="round"/>
<path d="M133.00 292.60 L133.00 290.06 L133.36 290.06 L133.60 289.66 L133.96 289.66 L134.20 289.87 L134.56 289.87 L134.80 289.78 L135.16 289.78 L135.40 289.90 L135.76 289.90 L136.00 289.08 L136.36 289.08 L136.60 290.40 L136.96 290.40 L137.20 289.15 L137.56 289.15 L137.80 291.22 L138.16 291.22 L138.40 290.25 L138.76 290.25 L139.00 290.14 L139.36 290.14 L139.60 290.78 L139.96 290.78 L140.20 288.80 L140.56 288.80 L140.80 290.23 L141.16 290.23 L141.40 288.65 L141.76 288.65 L142.00 288.09 L142.36 288.09 L142.00 292.60 Z" fill="#000" stroke="none" stroke-width="0" stroke-linejoin="round"/>
<path d="M115.00 290.60 L116.50 285.60 L117.50 281.60 L118.50 284.60 L119.50 281.60 L120.50 284.60 L122.00 286.60" fill="none" stroke="#111" stroke-width="0.8" stroke-dasharray="1.2 1.0" stroke-linejoin="round"/>
<rect x="274.4" y="121.2" width="40.60000000000002" height="46.8" fill="none" stroke="#111" stroke-width="0.7"/>
<text x="295.6" y="120.2" font-size="3.8" font-weight="bold" text-anchor="middle" fill="#111" stroke="#111" stroke-width="0.1">CD8</text>
<text x="276.50" y="173.5" font-size="3.3" font-weight="bold" text-anchor="middle" fill="#111" stroke="#111" stroke-width="0.15">10<tspan font-size="2.2" dy="-1.3">0</tspan></text>
<line x1="285.29" y1="167.2" x2="285.29" y2="169.7" stroke="#222" stroke-width="0.55"/>
<text x="284.39" y="173.5" font-size="3.3" font-weight="bold" text-anchor="middle" fill="#111" stroke="#111" stroke-width="0.15">10<tspan font-size="2.2" dy="-1.3">1</tspan></text>
<line x1="297.03" y1="167.2" x2="297.03" y2="169.7" stroke="#222" stroke-width="0.55"/>
<text x="296.13" y="173.5" font-size="3.3" font-weight="bold" text-anchor="middle" fill="#111" stroke="#111" stroke-width="0.15">10<tspan font-size="2.2" dy="-1.3">2</tspan></text>
<line x1="307.32" y1="167.2" x2="307.32" y2="169.7" stroke="#222" stroke-width="0.55"/>
<text x="306.42" y="173.5" font-size="3.3" font-weight="bold" text-anchor="middle" fill="#111" stroke="#111" stroke-width="0.15">10<tspan font-size="2.2" dy="-1.3">3</tspan></text>
<text x="313.90" y="173.5" font-size="3.3" font-weight="bold" text-anchor="middle" fill="#111" stroke="#111" stroke-width="0.15">10<tspan font-size="2.2" dy="-1.3">4</tspan></text>
<text x="269.0" y="170.25" font-size="3.9" font-weight="bold" text-anchor="start" fill="#222" stroke="#222" stroke-width="0.1" transform="rotate(-90 269.0 170.25)" textLength="47.5" lengthAdjust="spacingAndGlyphs">Cell Relative frequency</text>
<path d="M283.60 168.00 L283.60 165.97 L284.10 165.68 L284.60 165.15 L285.10 164.47 L285.60 164.42 L286.10 163.31 L286.60 162.09 L287.10 161.13 L287.60 160.59 L288.10 160.34 L288.60 158.66 L289.10 155.80 L289.60 157.14 L290.10 155.19 L290.60 151.51 L291.10 152.15 L291.60 152.01 L292.10 150.43 L292.60 146.46 L293.10 148.53 L293.60 147.36 L294.10 145.74 L294.60 144.44 L295.10 146.15 L295.60 148.63 L296.10 146.23 L296.60 149.73 L297.10 150.10 L297.60 150.46 L298.10 149.09 L298.60 152.13 L299.10 151.68 L299.60 155.01 L300.10 156.37 L300.60 157.85 L301.10 157.14 L301.60 158.07 L302.10 160.64 L302.60 161.58 L303.10 162.77 L303.60 162.53 L304.10 163.42 L304.60 163.73 L305.10 162.89 L305.60 162.56 L306.10 162.49 L306.60 162.99 L307.10 162.81 L307.60 163.71 L308.10 164.75 L308.60 165.79 L309.10 166.12 L309.60 166.72 L310.10 167.12 L310.60 167.27 L311.00 168.00 Z" fill="#000" stroke="none" stroke-width="0" stroke-linejoin="round"/>
<path d="M275.20 124.00 L275.40 138.00 L275.90 148.50 L277.50 153.00 L279.50 157.00 L281.50 160.50 L283.50 164.00 L285.00 167.00" fill="none" stroke="#111" stroke-width="0.8" stroke-dasharray="1.3 1.0" stroke-linejoin="round"/>
<rect x="329.1" y="121.5" width="39.799999999999955" height="46.5" fill="none" stroke="#111" stroke-width="0.7"/>
<text x="345.4" y="120.2" font-size="3.8" font-weight="bold" text-anchor="middle" fill="#111" stroke="#111" stroke-width="0.1">CD3</text>
<text x="331.20" y="173.5" font-size="3.3" font-weight="bold" text-anchor="middle" fill="#111" stroke="#111" stroke-width="0.15">10<tspan font-size="2.2" dy="-1.3">0</tspan></text>
<line x1="339.82" y1="167.2" x2="339.82" y2="169.7" stroke="#222" stroke-width="0.55"/>
<text x="338.92" y="173.5" font-size="3.3" font-weight="bold" text-anchor="middle" fill="#111" stroke="#111" stroke-width="0.15">10<tspan font-size="2.2" dy="-1.3">1</tspan></text>
<line x1="351.31" y1="167.2" x2="351.31" y2="169.7" stroke="#222" stroke-width="0.55"/>
<text x="350.41" y="173.5" font-size="3.3" font-weight="bold" text-anchor="middle" fill="#111" stroke="#111" stroke-width="0.15">10<tspan font-size="2.2" dy="-1.3">2</tspan></text>
<line x1="361.38" y1="167.2" x2="361.38" y2="169.7" stroke="#222" stroke-width="0.55"/>
<text x="360.48" y="173.5" font-size="3.3" font-weight="bold" text-anchor="middle" fill="#111" stroke="#111" stroke-width="0.15">10<tspan font-size="2.2" dy="-1.3">3</tspan></text>
<text x="367.80" y="173.5" font-size="3.3" font-weight="bold" text-anchor="middle" fill="#111" stroke="#111" stroke-width="0.15">10<tspan font-size="2.2" dy="-1.3">4</tspan></text>
<text x="327.2" y="124.6" font-size="2.6" font-weight="bold" text-anchor="middle" fill="#222" stroke="#222" stroke-width="0.1">10</text>
<text x="327.4" y="167.6" font-size="2.6" font-weight="bold" text-anchor="middle" fill="#222" stroke="#222" stroke-width="0.1">0</text>
<path d="M329.60 168.00 L329.60 122.50 L330.10 122.50 L330.60 122.50 L331.10 159.16 L331.60 159.37 L332.10 157.71 L332.60 157.31 L333.10 157.70 L333.60 157.43 L334.10 157.85 L334.60 158.11 L335.10 156.42 L335.60 154.54 L336.10 154.98 L336.60 151.99 L337.10 154.77 L337.60 156.14 L338.10 157.90 L338.60 156.45 L339.10 158.08 L339.60 158.83 L340.10 160.41 L340.60 162.37 L341.10 162.87 L341.60 163.58 L342.10 164.72 L342.60 164.76 L343.10 165.71 L343.60 166.21 L344.10 166.19 L344.60 166.61 L345.10 166.34 L345.60 166.44 L346.10 166.27 L346.60 166.20 L347.10 165.99 L347.60 166.04 L348.10 166.11 L348.60 165.71 L349.10 166.05 L349.60 165.81 L350.10 166.13 L350.60 165.82 L351.10 165.92 L351.60 166.05 L352.10 166.12 L352.60 166.27 L353.10 166.30 L353.60 166.60 L354.10 166.55 L354.60 166.52 L355.10 166.80 L355.60 166.66 L356.10 166.75 L356.60 166.95 L357.10 167.03 L357.60 167.07 L358.10 167.14 L358.60 167.06 L359.10 167.23 L359.60 167.34 L360.10 167.36 L360.60 167.29 L361.10 167.28 L361.60 167.38 L362.10 167.40 L362.60 167.41 L363.10 167.40 L363.60 167.48 L364.00 168.00 Z" fill="#000" stroke="none" stroke-width="0" stroke-linejoin="round"/>
<rect x="377.4" y="120.2" width="40.60000000000002" height="46.999999999999986" fill="none" stroke="#111" stroke-width="0.7"/>
<text x="396.8" y="119.6" font-size="3.8" font-weight="bold" text-anchor="middle" fill="#111" stroke="#111" stroke-width="0.1">TCR</text>
<text x="379.50" y="172.8" font-size="3.3" font-weight="bold" text-anchor="middle" fill="#111" stroke="#111" stroke-width="0.15">10<tspan font-size="2.2" dy="-1.3">0</tspan></text>
<line x1="388.29" y1="166.39999999999998" x2="388.29" y2="168.89999999999998" stroke="#222" stroke-width="0.55"/>
<text x="387.39" y="172.8" font-size="3.3" font-weight="bold" text-anchor="middle" fill="#111" stroke="#111" stroke-width="0.15">10<tspan font-size="2.2" dy="-1.3">1</tspan></text>
<line x1="400.03" y1="166.39999999999998" x2="400.03" y2="168.89999999999998" stroke="#222" stroke-width="0.55"/>
<text x="399.13" y="172.8" font-size="3.3" font-weight="bold" text-anchor="middle" fill="#111" stroke="#111" stroke-width="0.15">10<tspan font-size="2.2" dy="-1.3">2</tspan></text>
<line x1="410.32" y1="166.39999999999998" x2="410.32" y2="168.89999999999998" stroke="#222" stroke-width="0.55"/>
<text x="409.42" y="172.8" font-size="3.3" font-weight="bold" text-anchor="middle" fill="#111" stroke="#111" stroke-width="0.15">10<tspan font-size="2.2" dy="-1.3">3</tspan></text>
<text x="416.90" y="172.8" font-size="3.3" font-weight="bold" text-anchor="middle" fill="#111" stroke="#111" stroke-width="0.15">10<tspan font-size="2.2" dy="-1.3">4</tspan></text>
<path d="M378.80 167.20 L378.80 157.22 L379.30 156.79 L379.80 155.69 L380.30 153.17 L380.80 153.06 L381.30 152.03 L381.80 150.12 L382.30 149.73 L382.80 147.99 L383.30 148.67 L383.80 146.92 L384.30 148.05 L384.80 147.73 L385.30 147.77 L385.80 149.29 L386.30 150.28 L386.80 152.26 L387.30 154.88 L387.80 155.66 L388.30 157.76 L388.80 159.65 L389.20 167.20 Z" fill="#000" stroke="none" stroke-width="0" stroke-linejoin="round"/>
<line x1="377.5" y1="166.6" x2="417.5" y2="166.6" stroke="#000" stroke-width="1.3"/>
<rect x="275.2" y="185.6" width="38.0" height="44.70000000000002" fill="none" stroke="#111" stroke-width="0.7"/>
<text x="298.8" y="182.70000000000002" font-size="3.8" font-weight="bold" text-anchor="middle" fill="#111" stroke="#111" stroke-width="0.1">IA-b</text>
<text x="277.30" y="235.2" font-size="3.3" font-weight="bold" text-anchor="middle" fill="#111" stroke="#111" stroke-width="0.15">10<tspan font-size="2.2" dy="-1.3">0</tspan></text>
<line x1="285.54" y1="229.5" x2="285.54" y2="232.0" stroke="#222" stroke-width="0.55"/>
<text x="284.64" y="235.2" font-size="3.3" font-weight="bold" text-anchor="middle" fill="#111" stroke="#111" stroke-width="0.15">10<tspan font-size="2.2" dy="-1.3">1</tspan></text>
<line x1="296.47" y1="229.5" x2="296.47" y2="232.0" stroke="#222" stroke-width="0.55"/>
<text x="295.57" y="235.2" font-size="3.3" font-weight="bold" text-anchor="middle" fill="#111" stroke="#111" stroke-width="0.15">10<tspan font-size="2.2" dy="-1.3">2</tspan></text>
<line x1="306.04" y1="229.5" x2="306.04" y2="232.0" stroke="#222" stroke-width="0.55"/>
<text x="305.14" y="235.2" font-size="3.3" font-weight="bold" text-anchor="middle" fill="#111" stroke="#111" stroke-width="0.15">10<tspan font-size="2.2" dy="-1.3">3</tspan></text>
<text x="312.10" y="235.2" font-size="3.3" font-weight="bold" text-anchor="middle" fill="#111" stroke="#111" stroke-width="0.15">10<tspan font-size="2.2" dy="-1.3">4</tspan></text>
<text x="269.2" y="233.15" font-size="3.9" font-weight="bold" text-anchor="start" fill="#222" stroke="#222" stroke-width="0.1" transform="rotate(-90 269.2 233.15)" textLength="47.5" lengthAdjust="spacingAndGlyphs">Cell Relative frequency</text>
<path d="M301.20 230.30 L301.20 228.42 L301.70 226.45 L302.20 223.96 L302.70 222.64 L303.20 217.64 L303.70 211.71 L304.20 201.89 L304.70 196.15 L305.20 191.27 L305.70 189.60 L306.20 194.11 L306.70 195.64 L307.20 203.42 L307.70 207.58 L308.20 208.36 L308.70 210.60 L309.20 209.35 L309.70 213.68 L310.20 222.18 L310.70 226.76 L311.20 228.07 L311.70 229.09 L311.80 230.30 Z" fill="#000" stroke="none" stroke-width="0" stroke-linejoin="round"/>
<path d="M275.80 188.00 L276.80 199.00 L278.40 210.00 L280.70 217.50 L284.00 221.30 L287.30 226.30 L290.60 229.60 L300.00 230.00" fill="none" stroke="#111" stroke-width="0.8" stroke-dasharray="1.3 1.0" stroke-linejoin="round"/>
<rect x="326.8" y="184.8" width="44.39999999999998" height="45.5" fill="none" stroke="#111" stroke-width="0.7"/>
<text x="345.6" y="182.70000000000002" font-size="3.8" font-weight="bold" text-anchor="middle" fill="#111" stroke="#111" stroke-width="0.1">CD11b</text>
<text x="328.90" y="237.0" font-size="3.3" font-weight="bold" text-anchor="middle" fill="#111" stroke="#111" stroke-width="0.15">10<tspan font-size="2.2" dy="-1.3">0</tspan></text>
<line x1="338.49" y1="229.5" x2="338.49" y2="232.0" stroke="#222" stroke-width="0.55"/>
<text x="337.59" y="237.0" font-size="3.3" font-weight="bold" text-anchor="middle" fill="#111" stroke="#111" stroke-width="0.15">10<tspan font-size="2.2" dy="-1.3">1</tspan></text>
<line x1="351.43" y1="229.5" x2="351.43" y2="232.0" stroke="#222" stroke-width="0.55"/>
<text x="350.53" y="237.0" font-size="3.3" font-weight="bold" text-anchor="middle" fill="#111" stroke="#111" stroke-width="0.15">10<tspan font-size="2.2" dy="-1.3">2</tspan></text>
<line x1="362.76" y1="229.5" x2="362.76" y2="232.0" stroke="#222" stroke-width="0.55"/>
<text x="361.86" y="237.0" font-size="3.3" font-weight="bold" text-anchor="middle" fill="#111" stroke="#111" stroke-width="0.15">10<tspan font-size="2.2" dy="-1.3">3</tspan></text>
<text x="370.10" y="237.0" font-size="3.3" font-weight="bold" text-anchor="middle" fill="#111" stroke="#111" stroke-width="0.15">10<tspan font-size="2.2" dy="-1.3">4</tspan></text>
<path d="M327.20 230.30 L327.20 212.94 L327.70 186.30 L328.20 196.25 L328.70 186.30 L329.20 196.07 L329.70 213.21 L330.20 214.17 L330.70 210.60 L331.20 215.90 L331.70 213.16 L332.20 213.83 L332.70 214.21 L333.20 216.55 L333.70 214.57 L334.20 214.25 L334.70 219.13 L335.20 217.19 L335.70 215.07 L336.20 216.32 L336.70 217.92 L337.20 218.69 L337.70 215.50 L338.20 219.89 L338.70 216.56 L339.20 216.18 L339.70 219.60 L340.20 218.78 L340.70 218.90 L341.20 217.75 L341.70 218.62 L342.20 216.03 L342.70 215.88 L343.20 218.89 L343.70 216.04 L344.20 220.11 L344.70 219.98 L345.20 217.27 L345.70 216.84 L346.20 216.97 L346.70 216.39 L347.20 217.24 L347.70 220.13 L348.20 218.21 L348.70 217.64 L349.20 221.41 L349.70 219.90 L350.20 221.49 L350.70 221.71 L351.20 220.56 L351.70 220.02 L352.20 219.12 L352.70 222.51 L353.20 221.40 L353.70 219.97 L354.20 221.06 L354.70 222.10 L355.20 223.27 L355.70 222.33 L356.20 223.68 L356.70 222.84 L357.20 223.10 L357.70 224.05 L358.20 223.36 L358.70 224.79 L359.20 225.11 L359.70 224.88 L360.20 226.42 L360.70 226.95 L361.20 226.84 L361.70 227.49 L362.20 227.53 L362.70 229.40 L363.20 229.35 L363.70 229.48 L364.20 229.32 L364.70 229.37 L365.20 229.32 L365.70 229.19 L366.20 229.49 L366.70 227.67 L367.20 227.91 L367.70 227.83 L368.20 228.07 L368.70 229.27 L369.20 229.34 L369.70 229.34 L370.00 230.30 Z" fill="#000" stroke="none" stroke-width="0" stroke-linejoin="round"/>
<path d="M330.00 217.30 L331.20 210.30 L332.40 204.30 L333.80 197.30 L335.20 192.30 L336.60 188.30 L337.60 196.30 L338.60 204.30 L339.60 210.30 L340.30 216.30 L340.60 221.30" fill="none" stroke="#111" stroke-width="0.85" stroke-dasharray="1.3 1.0" stroke-linejoin="round"/>
<rect x="376.2" y="184.5" width="40.400000000000034" height="46.30000000000001" fill="none" stroke="#111" stroke-width="0.7"/>
<text x="395.4" y="183.0" font-size="3.8" font-weight="bold" text-anchor="middle" fill="#111" stroke="#111" stroke-width="0.1">CD32</text>
<text x="378.30" y="236.3" font-size="3.3" font-weight="bold" text-anchor="middle" fill="#111" stroke="#111" stroke-width="0.15">10<tspan font-size="2.2" dy="-1.3">0</tspan></text>
<line x1="387.05" y1="230.0" x2="387.05" y2="232.5" stroke="#222" stroke-width="0.55"/>
<text x="386.15" y="236.3" font-size="3.3" font-weight="bold" text-anchor="middle" fill="#111" stroke="#111" stroke-width="0.15">10<tspan font-size="2.2" dy="-1.3">1</tspan></text>
<line x1="398.73" y1="230.0" x2="398.73" y2="232.5" stroke="#222" stroke-width="0.55"/>
<text x="397.83" y="236.3" font-size="3.3" font-weight="bold" text-anchor="middle" fill="#111" stroke="#111" stroke-width="0.15">10<tspan font-size="2.2" dy="-1.3">2</tspan></text>
<line x1="408.96" y1="230.0" x2="408.96" y2="232.5" stroke="#222" stroke-width="0.55"/>
<text x="408.06" y="236.3" font-size="3.3" font-weight="bold" text-anchor="middle" fill="#111" stroke="#111" stroke-width="0.15">10<tspan font-size="2.2" dy="-1.3">3</tspan></text>
<text x="415.50" y="236.3" font-size="3.3" font-weight="bold" text-anchor="middle" fill="#111" stroke="#111" stroke-width="0.15">10<tspan font-size="2.2" dy="-1.3">4</tspan></text>
<path d="M377.50 230.80 L377.50 230.24 L378.00 230.01 L378.50 229.98 L379.00 230.18 L379.50 229.82 L380.00 229.83 L380.50 230.05 L381.00 229.37 L381.50 229.67 L382.00 229.46 L382.50 229.14 L383.00 228.70 L383.50 228.97 L384.00 227.84 L384.50 227.13 L385.00 227.21 L385.50 226.03 L386.00 225.80 L386.50 224.53 L387.00 225.88 L387.50 224.61 L388.00 223.44 L388.50 224.35 L389.00 219.29 L389.50 220.11 L390.00 222.47 L390.50 218.71 L391.00 219.07 L391.50 220.04 L392.00 219.72 L392.50 216.86 L393.00 219.62 L393.50 215.16 L394.00 215.30 L394.50 218.52 L395.00 211.98 L395.50 219.45 L396.00 218.80 L396.50 214.48 L397.00 219.97 L397.50 219.57 L398.00 219.83 L398.50 221.56 L399.00 222.12 L399.50 222.74 L400.00 223.28 L400.50 225.26 L401.00 222.15 L401.50 224.23 L402.00 225.05 L402.50 223.26 L403.00 221.21 L403.50 221.93 L404.00 222.76 L404.50 222.81 L405.00 224.17 L405.50 222.75 L406.00 224.25 L406.50 225.74 L407.00 225.91 L407.50 226.46 L408.00 225.23 L408.50 225.36 L409.00 226.30 L409.50 227.92 L410.00 228.44 L410.50 227.67 L411.00 228.83 L411.50 229.34 L412.00 229.22 L412.50 229.43 L413.00 229.68 L413.50 229.88 L414.00 230.06 L414.00 230.80 Z" fill="#000" stroke="none" stroke-width="0" stroke-linejoin="round"/>
<path d="M377.10 188.00 L377.60 194.00 L378.60 200.00 L380.00 206.00 L381.60 212.00 L383.00 218.00 L384.60 223.00 L386.00 226.50" fill="none" stroke="#111" stroke-width="0.8" stroke-dasharray="1.3 1.0" stroke-linejoin="round"/>
<rect x="423.3" y="184.5" width="40.69999999999999" height="46.30000000000001" fill="none" stroke="#111" stroke-width="0.7"/>
<text x="442.2" y="183.0" font-size="3.8" font-weight="bold" text-anchor="middle" fill="#111" stroke="#111" stroke-width="0.1">E cadherin</text>
<text x="425.40" y="236.3" font-size="3.3" font-weight="bold" text-anchor="middle" fill="#111" stroke="#111" stroke-width="0.15">10<tspan font-size="2.2" dy="-1.3">0</tspan></text>
<line x1="434.21" y1="230.0" x2="434.21" y2="232.5" stroke="#222" stroke-width="0.55"/>
<text x="433.31" y="236.3" font-size="3.3" font-weight="bold" text-anchor="middle" fill="#111" stroke="#111" stroke-width="0.15">10<tspan font-size="2.2" dy="-1.3">1</tspan></text>
<line x1="445.99" y1="230.0" x2="445.99" y2="232.5" stroke="#222" stroke-width="0.55"/>
<text x="445.09" y="236.3" font-size="3.3" font-weight="bold" text-anchor="middle" fill="#111" stroke="#111" stroke-width="0.15">10<tspan font-size="2.2" dy="-1.3">2</tspan></text>
<line x1="456.30" y1="230.0" x2="456.30" y2="232.5" stroke="#222" stroke-width="0.55"/>
<text x="455.40" y="236.3" font-size="3.3" font-weight="bold" text-anchor="middle" fill="#111" stroke="#111" stroke-width="0.15">10<tspan font-size="2.2" dy="-1.3">3</tspan></text>
<text x="462.90" y="236.3" font-size="3.3" font-weight="bold" text-anchor="middle" fill="#111" stroke="#111" stroke-width="0.15">10<tspan font-size="2.2" dy="-1.3">4</tspan></text>
<path d="M423.50 230.80 L423.50 185.80 L424.00 185.80 L424.50 190.31 L425.00 192.72 L425.50 202.14 L426.00 200.98 L426.50 204.59 L427.00 211.27 L427.50 210.21 L428.00 212.90 L428.50 213.91 L429.00 214.09 L429.50 215.20 L430.00 218.06 L430.50 217.60 L431.00 218.54 L431.50 218.74 L432.00 221.71 L432.50 220.05 L433.00 222.16 L433.50 222.77 L434.00 222.19 L434.50 222.11 L435.00 222.27 L435.50 223.68 L436.00 223.20 L436.50 224.81 L437.00 223.60 L437.50 224.90 L438.00 224.78 L438.50 225.59 L439.00 225.90 L439.50 226.14 L440.00 225.60 L440.50 225.85 L441.00 225.75 L441.50 225.91 L442.00 226.54 L442.50 226.28 L443.00 227.07 L443.50 226.58 L444.00 227.30 L444.50 226.83 L445.00 227.44 L445.50 227.53 L446.00 227.58 L446.50 228.03 L447.00 228.12 L447.50 227.89 L448.00 227.88 L448.50 228.41 L449.00 228.27 L449.50 228.38 L450.00 228.22 L450.50 228.19 L451.00 228.77 L451.50 228.60 L452.00 228.89 L452.50 228.62 L453.00 228.62 L453.50 228.79 L454.00 228.91 L454.50 229.20 L455.00 229.23 L455.50 229.22 L456.00 229.33 L456.50 229.35 L457.00 229.09 L457.50 229.36 L458.00 229.20 L458.50 229.30 L459.00 229.33 L459.50 229.33 L460.00 229.44 L460.50 229.58 L461.00 229.57 L461.50 229.63 L462.00 229.76 L462.50 229.78 L463.00 229.66 L463.00 230.80 Z" fill="#000" stroke="none" stroke-width="0" stroke-linejoin="round"/>
<rect x="477.0" y="184.4" width="39.799999999999955" height="45.599999999999994" fill="none" stroke="#111" stroke-width="0.7"/>
<text x="497.2" y="183.0" font-size="3.8" font-weight="bold" text-anchor="middle" fill="#111" stroke="#111" stroke-width="0.1">DEC-205</text>
<text x="479.10" y="236.3" font-size="3.3" font-weight="bold" text-anchor="middle" fill="#111" stroke="#111" stroke-width="0.15">10<tspan font-size="2.2" dy="-1.3">0</tspan></text>
<line x1="487.72" y1="229.2" x2="487.72" y2="231.7" stroke="#222" stroke-width="0.55"/>
<text x="486.82" y="236.3" font-size="3.3" font-weight="bold" text-anchor="middle" fill="#111" stroke="#111" stroke-width="0.15">10<tspan font-size="2.2" dy="-1.3">1</tspan></text>
<line x1="499.22" y1="229.2" x2="499.22" y2="231.7" stroke="#222" stroke-width="0.55"/>
<text x="498.31" y="236.3" font-size="3.3" font-weight="bold" text-anchor="middle" fill="#111" stroke="#111" stroke-width="0.15">10<tspan font-size="2.2" dy="-1.3">2</tspan></text>
<line x1="509.28" y1="229.2" x2="509.28" y2="231.7" stroke="#222" stroke-width="0.55"/>
<text x="508.38" y="236.3" font-size="3.3" font-weight="bold" text-anchor="middle" fill="#111" stroke="#111" stroke-width="0.15">10<tspan font-size="2.2" dy="-1.3">3</tspan></text>
<text x="515.70" y="236.3" font-size="3.3" font-weight="bold" text-anchor="middle" fill="#111" stroke="#111" stroke-width="0.15">10<tspan font-size="2.2" dy="-1.3">4</tspan></text>
<path d="M477.30 230.00 L477.30 229.25 L477.80 218.73 L478.30 218.01 L478.80 228.88 L479.30 228.65 L479.80 228.04 L480.30 227.76 L480.80 227.15 L481.30 226.10 L481.80 225.72 L482.30 223.90 L482.80 223.13 L483.30 222.42 L483.80 219.34 L484.30 218.32 L484.80 217.86 L485.30 213.96 L485.80 212.32 L486.30 210.74 L486.80 209.55 L487.30 206.89 L487.80 210.20 L488.30 205.36 L488.80 206.65 L489.30 208.55 L489.80 207.34 L490.30 209.20 L490.80 208.77 L491.30 209.67 L491.80 211.63 L492.30 214.44 L492.80 214.87 L493.30 216.57 L493.80 216.86 L494.30 217.97 L494.80 219.75 L495.30 221.49 L495.80 223.17 L496.30 223.44 L496.80 224.83 L497.30 224.83 L497.80 226.16 L498.30 226.02 L498.80 227.03 L499.30 226.80 L499.80 227.25 L500.30 227.25 L500.80 227.43 L501.30 227.57 L501.80 227.59 L502.30 227.51 L502.80 227.80 L503.30 227.86 L503.80 227.73 L504.30 228.04 L504.80 228.01 L505.30 228.00 L505.80 228.05 L506.30 228.23 L506.80 228.06 L507.30 228.21 L507.80 228.41 L508.30 228.38 L508.80 228.53 L509.30 228.49 L509.80 228.62 L510.30 228.64 L510.80 228.61 L511.30 228.64 L511.80 228.79 L512.30 228.81 L512.80 228.85 L513.30 228.89 L513.80 228.88 L514.30 229.07 L514.80 229.00 L515.30 229.09 L515.80 229.07 L516.00 230.00 Z" fill="#000" stroke="none" stroke-width="0" stroke-linejoin="round"/>
<line x1="477.2" y1="186" x2="477.2" y2="230.0" stroke="#000" stroke-width="0.9" stroke-dasharray="1.6 0.8"/>
<rect x="274.3" y="246.5" width="39.80000000000001" height="44.39999999999998" fill="none" stroke="#111" stroke-width="0.7"/>
<text x="296.8" y="245.20000000000002" font-size="3.8" font-weight="bold" text-anchor="middle" fill="#111" stroke="#111" stroke-width="0.1">CD86</text>
<text x="276.40" y="295.9" font-size="3.3" font-weight="bold" text-anchor="middle" fill="#111" stroke="#111" stroke-width="0.15">10<tspan font-size="2.2" dy="-1.3">0</tspan></text>
<line x1="285.02" y1="290.09999999999997" x2="285.02" y2="292.59999999999997" stroke="#222" stroke-width="0.55"/>
<text x="284.12" y="295.9" font-size="3.3" font-weight="bold" text-anchor="middle" fill="#111" stroke="#111" stroke-width="0.15">10<tspan font-size="2.2" dy="-1.3">1</tspan></text>
<line x1="296.52" y1="290.09999999999997" x2="296.52" y2="292.59999999999997" stroke="#222" stroke-width="0.55"/>
<text x="295.62" y="295.9" font-size="3.3" font-weight="bold" text-anchor="middle" fill="#111" stroke="#111" stroke-width="0.15">10<tspan font-size="2.2" dy="-1.3">2</tspan></text>
<line x1="306.58" y1="290.09999999999997" x2="306.58" y2="292.59999999999997" stroke="#222" stroke-width="0.55"/>
<text x="305.68" y="295.9" font-size="3.3" font-weight="bold" text-anchor="middle" fill="#111" stroke="#111" stroke-width="0.15">10<tspan font-size="2.2" dy="-1.3">3</tspan></text>
<text x="313.00" y="295.9" font-size="3.3" font-weight="bold" text-anchor="middle" fill="#111" stroke="#111" stroke-width="0.15">10<tspan font-size="2.2" dy="-1.3">4</tspan></text>
<text x="269.0" y="296.35" font-size="3.9" font-weight="bold" text-anchor="start" fill="#222" stroke="#222" stroke-width="0.1" transform="rotate(-90 269.0 296.35)" textLength="47.5" lengthAdjust="spacingAndGlyphs">Cell Relative frequency</text>
<path d="M287.50 290.90 L287.50 290.03 L288.00 289.91 L288.50 289.67 L289.00 289.63 L289.50 289.50 L290.00 289.22 L290.50 289.06 L291.00 288.96 L291.50 288.69 L292.00 288.28 L292.50 288.45 L293.00 288.22 L293.50 288.12 L294.00 287.78 L294.50 287.65 L295.00 286.71 L295.50 286.90 L296.00 285.92 L296.50 286.29 L297.00 284.97 L297.50 284.82 L298.00 283.92 L298.50 283.21 L299.00 283.04 L299.50 282.31 L300.00 280.58 L300.50 280.84 L301.00 280.28 L301.50 277.56 L302.00 277.05 L302.50 277.34 L303.00 275.94 L303.50 274.21 L304.00 275.79 L304.50 276.08 L305.00 275.09 L305.50 276.10 L306.00 276.03 L306.50 277.87 L307.00 276.98 L307.50 278.30 L308.00 280.74 L308.50 282.17 L309.00 283.75 L309.50 284.16 L310.00 285.54 L310.50 286.82 L311.00 288.02 L311.50 288.68 L312.00 288.98 L312.50 289.59 L313.00 289.78 L313.50 290.06 L314.00 290.27 L314.00 290.90 Z" fill="#000" stroke="none" stroke-width="0" stroke-linejoin="round"/>
<path d="M275.60 249.00 L275.90 262.00 L276.50 272.00 L277.60 278.00 L279.50 283.00 L282.00 287.00 L285.20 290.20" fill="none" stroke="#111" stroke-width="0.8" stroke-dasharray="1.3 1.0" stroke-linejoin="round"/>
<rect x="329.5" y="246.9" width="39.80000000000001" height="43.99999999999997" fill="none" stroke="#111" stroke-width="0.7"/>
<text x="345.0" y="245.3" font-size="3.8" font-weight="bold" text-anchor="middle" fill="#111" stroke="#111" stroke-width="0.1">CD40</text>
<text x="331.60" y="295.9" font-size="3.3" font-weight="bold" text-anchor="middle" fill="#111" stroke="#111" stroke-width="0.15">10<tspan font-size="2.2" dy="-1.3">0</tspan></text>
<line x1="340.22" y1="290.09999999999997" x2="340.22" y2="292.59999999999997" stroke="#222" stroke-width="0.55"/>
<text x="339.32" y="295.9" font-size="3.3" font-weight="bold" text-anchor="middle" fill="#111" stroke="#111" stroke-width="0.15">10<tspan font-size="2.2" dy="-1.3">1</tspan></text>
<line x1="351.72" y1="290.09999999999997" x2="351.72" y2="292.59999999999997" stroke="#222" stroke-width="0.55"/>
<text x="350.81" y="295.9" font-size="3.3" font-weight="bold" text-anchor="middle" fill="#111" stroke="#111" stroke-width="0.15">10<tspan font-size="2.2" dy="-1.3">2</tspan></text>
<line x1="361.78" y1="290.09999999999997" x2="361.78" y2="292.59999999999997" stroke="#222" stroke-width="0.55"/>
<text x="360.88" y="295.9" font-size="3.3" font-weight="bold" text-anchor="middle" fill="#111" stroke="#111" stroke-width="0.15">10<tspan font-size="2.2" dy="-1.3">3</tspan></text>
<text x="368.20" y="295.9" font-size="3.3" font-weight="bold" text-anchor="middle" fill="#111" stroke="#111" stroke-width="0.15">10<tspan font-size="2.2" dy="-1.3">4</tspan></text>
<path d="M336.50 290.90 L336.50 290.36 L337.00 290.29 L337.50 290.05 L338.00 289.94 L338.50 289.55 L339.00 289.14 L339.50 288.44 L340.00 287.10 L340.50 286.74 L341.00 284.90 L341.50 283.54 L342.00 281.27 L342.50 277.02 L343.00 276.39 L343.50 272.11 L344.00 269.14 L344.50 262.56 L345.00 259.42 L345.50 257.71 L346.00 253.65 L346.50 254.76 L347.00 254.39 L347.50 260.25 L348.00 266.70 L348.50 267.59 L349.00 272.67 L349.50 274.48 L350.00 277.92 L350.50 279.44 L351.00 280.47 L351.50 282.80 L352.00 283.83 L352.50 285.02 L353.00 286.14 L353.50 286.74 L354.00 287.43 L354.50 287.56 L355.00 287.68 L355.50 288.32 L356.00 287.91 L356.50 288.40 L357.00 288.63 L357.50 288.72 L358.00 288.70 L358.50 288.94 L359.00 288.87 L359.50 288.97 L360.00 288.97 L360.50 289.18 L361.00 289.12 L361.50 289.35 L362.00 289.59 L362.50 289.53 L363.00 289.69 L363.50 289.73 L364.00 289.89 L364.50 289.93 L365.00 290.16 L365.50 290.21 L366.00 290.15 L366.00 290.90 Z" fill="#000" stroke="none" stroke-width="0" stroke-linejoin="round"/>
<path d="M330.80 272.00 L331.80 278.00 L333.30 283.00 L335.00 287.00 L337.00 290.00" fill="none" stroke="#111" stroke-width="0.8" stroke-dasharray="1.3 1.0" stroke-linejoin="round"/>
</svg>
</body></html>
